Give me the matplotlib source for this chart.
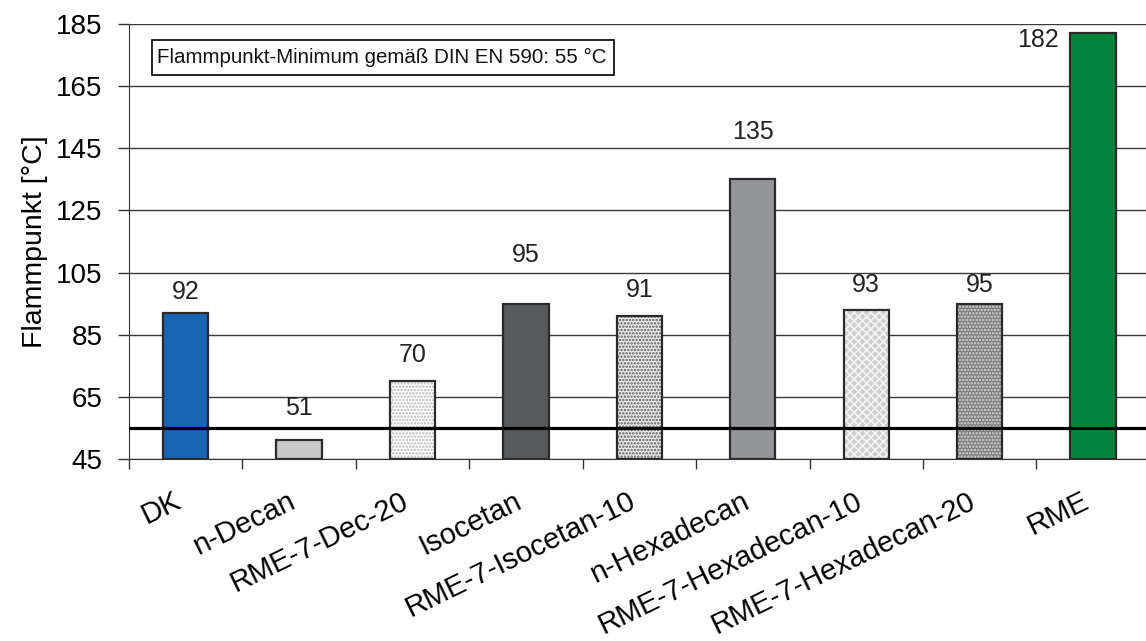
import matplotlib.pyplot as plt
import matplotlib.transforms as mtransforms
from matplotlib.patches import Rectangle
import numpy as np

plt.rcParams['font.family'] = ['Liberation Sans', 'DejaVu Sans']
plt.rcParams['hatch.linewidth'] = 1.2

categories = ['DK', 'n-Decan', 'RME-7-Dec-20', 'Isocetan', 'RME-7-Isocetan-10',
              'n-Hexadecan', 'RME-7-Hexadecan-10', 'RME-7-Hexadecan-20', 'RME']
flammpunkt = [92, 51, 70, 95, 91, 135, 93, 95, 182]
din_minimum = 55

# fill colour, hatch, hatch colour per bar
faces = ['#1a64b4', '#c8c8c8', '#ffffff', '#58595b', '#ececec',
         '#939598', '#cfcfcf', '#7c7c7c', '#00843e']
hatches = [None, None, '.....', None, '.....', None, 'xxxx', '.....', None]
hatch_cols = [None, None, '#b8b8b8', None, '#5a5a5a', None, '#f4f4f4', '#d8d8d8', None]
# label offsets above bar top, pixels (as in original)
label_dy = [21, 32, 26, 49, 26, 47, 25, 19, 0]

fig = plt.figure(figsize=(11.46, 6.41), dpi=100)
ax = fig.add_axes([0.1124, 0.2839, 0.891, 0.6787])

x = np.arange(len(categories))
w = 0.40
for i in range(len(x)):
    if hatches[i]:
        ax.bar(x[i], flammpunkt[i] - 45, w, bottom=45, color=faces[i],
               hatch=hatches[i], edgecolor=hatch_cols[i], linewidth=0, zorder=2)
    else:
        ax.bar(x[i], flammpunkt[i] - 45, w, bottom=45, color=faces[i], linewidth=0, zorder=2)
    ax.bar(x[i], flammpunkt[i] - 45, w, bottom=45, fill=False,
           edgecolor='#2a2a2a', linewidth=1.6, zorder=3)

for i in range(len(x) - 1):
    ax.annotate(str(flammpunkt[i]), (x[i], flammpunkt[i]), xytext=(0, label_dy[i]),
                textcoords='offset pixels', ha='center', va='center', fontsize=18, color='#222')
# last label sits left of the bar
ax.annotate(str(flammpunkt[-1]), (x[-1] - w / 2, flammpunkt[-1]), xytext=(-12, -7),
            textcoords='offset pixels', ha='right', va='center', fontsize=18, color='#222')

ax.axhline(din_minimum, color='black', linewidth=2.3, zorder=4)

ax.set_xlim(-0.5, len(categories) - 0.5)
ax.set_ylim(45, 185)
ax.set_yticks(np.arange(45, 186, 20))
ax.yaxis.grid(True, color='#3a3a3a', linewidth=1.0, zorder=0)
ax.set_axisbelow(True)

ax.set_xticks(x)
ax.set_xticklabels(categories, rotation=26, ha='right', va='top', rotation_mode='anchor', fontsize=21)
ax.set_xticks(np.arange(-0.5, len(categories), 1), minor=True)
ax.tick_params(axis='x', which='major', length=0, pad=20)
ax.tick_params(axis='x', which='minor', length=7, width=1, direction='out', color='#333')
offset = mtransforms.ScaledTranslation(-12 / 100, 0, fig.dpi_scale_trans)
for lab in ax.get_xticklabels():
    lab.set_transform(lab.get_transform() + offset)

ax.tick_params(axis='y', length=8, width=1, direction='out', pad=11, labelsize=20, color='#333')
ax.set_ylabel('Flammpunkt [°C]', fontsize=20.5, labelpad=6)

ax.spines['top'].set_visible(False)
ax.spines['right'].set_visible(False)
ax.spines['left'].set_color('#333')
ax.spines['bottom'].set_color('#333')

fig.add_artist(Rectangle((152 / 1146, 1 - 75 / 641), 462 / 1146, 35 / 641,
                         transform=fig.transFigure, fill=False, edgecolor='black', linewidth=1.2))
fig.text(157 / 1146, 1 - 57 / 641, 'Flammpunkt-Minimum gemäß DIN EN 590: 55 °C',
         fontsize=14.8, ha='left', va='center', color='#111')

fig.savefig('out.png', dpi=100)
